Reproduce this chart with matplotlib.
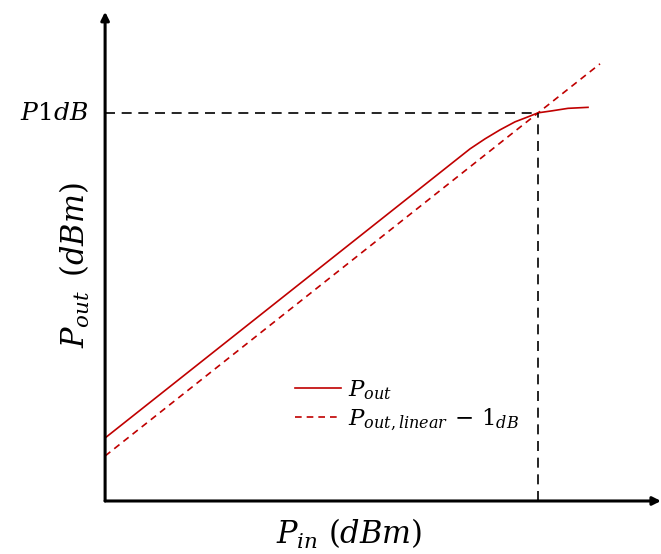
import matplotlib.pyplot as plt

plt.rcParams['mathtext.fontset'] = 'dejavuserif'

# measured output curve (arbitrary dB units)
p_in = [0, 36.5, 38.0, 39.5, 41.0, 42.3, 43.3, 44.7, 46.3, 48.3]
p_out = [6.3, 35.2, 36.2, 37.1, 37.9, 38.4, 38.8, 39.0, 39.25, 39.35]

# linear extrapolation minus 1 dB
lin_in = [0, 49.5]
lin_out = [4.5, 43.7]

# 1 dB compression point
p1_in = 43.3
p1_out = 38.8

red = '#C00000'

fig = plt.figure(figsize=(6.61, 5.54), dpi=100)
ax = fig.add_axes([0.159, 0.0957, 0.841, 0.883])
ax.set_xlim(0, 55.6)
ax.set_ylim(0, 48.9)
for s in ax.spines.values():
    s.set_visible(False)
ax.set_xticks([])
ax.set_yticks([])

# axes with arrow heads
ax.annotate('', xy=(1.0, 0), xytext=(0, 0), xycoords='axes fraction',
            arrowprops=dict(arrowstyle='-|>', lw=2.2, color='black',
                            mutation_scale=12, shrinkA=0, shrinkB=0))
ax.annotate('', xy=(0, 1.0), xytext=(0, 0), xycoords='axes fraction',
            arrowprops=dict(arrowstyle='-|>', lw=2.2, color='black',
                            mutation_scale=12, shrinkA=0, shrinkB=0))

ax.plot(p_in, p_out, color=red, lw=1.2, label=r'$P_{out}$')
ax.plot(lin_in, lin_out, color=red, lw=1.2, ls=(0, (4, 3)),
        label=r'$P_{out,linear}\,-\,1_{dB}$')

ax.plot([0, p1_in], [p1_out, p1_out], color='black', lw=1.2, ls=(0, (6, 4)))
ax.plot([p1_in, p1_in], [0, p1_out], color='black', lw=1.2, ls=(0, (6, 4)))

ax.text(-1.7, p1_out, r'$P1dB$', ha='right', va='center', fontsize=18,
        clip_on=False)

fig.text(0.113, 0.522, r'$P_{out}\ \,(dBm)$', rotation=90, ha='center',
         va='center', fontsize=22)
fig.text(0.528, 0.036, r'$P_{in}\ (dBm)$', ha='center', va='center',
         fontsize=22)

ax.legend(loc='upper left', bbox_to_anchor=(0.325, 0.27), frameon=False,
          fontsize=16.5, handlelength=2.0, handletextpad=0.3, labelspacing=0.2,
          borderaxespad=0)

fig.savefig('out.png', dpi=100)
